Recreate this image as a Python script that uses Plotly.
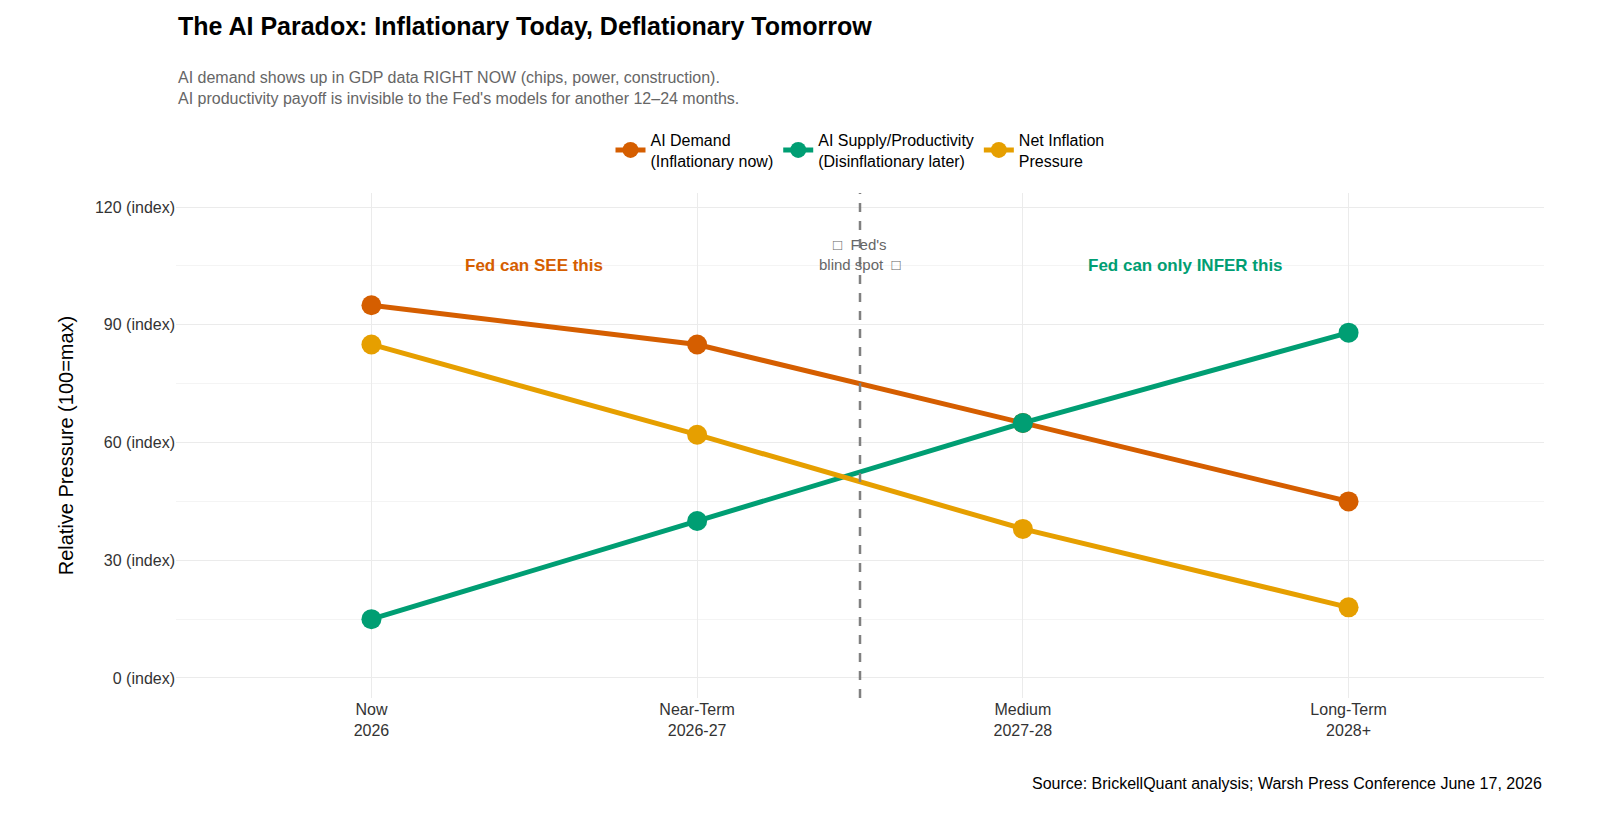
import plotly.graph_objects as go

periods = ["Now<br>2026", "Near-Term<br>2026-27", "Medium<br>2027-28", "Long-Term<br>2028+"]
demand = [95, 85, 65, 45]
supply = [15, 40, 65, 88]
net = [85, 62, 38, 18]
y_ticks = [0, 30, 60, 90, 120]

series = [
    ("AI Demand<br>(Inflationary now)", demand, "#D55E00"),
    ("AI Supply/Productivity<br>(Disinflationary later)", supply, "#009E73"),
    ("Net Inflation<br>Pressure", net, "#E69F00"),
]

xs = list(range(len(periods)))
fig = go.Figure()
for name, vals, color in series:
    fig.add_trace(go.Scatter(x=xs, y=vals, mode="lines+markers", name=name,
                             line=dict(color=color, width=5),
                             marker=dict(color=color, size=20)))

fig.add_vline(x=1.5, line=dict(color="gray", width=2.5, dash="dash"))
fig.add_annotation(x=0.5, y=105, text="<b>Fed can SEE this</b>", showarrow=False,
                   font=dict(color="#D55E00", size=17))
fig.add_annotation(x=2.5, y=105, text="<b>Fed can only INFER this</b>", showarrow=False,
                   font=dict(color="#009E73", size=17))
fig.add_annotation(x=1.5, y=108, text="□  Fed's<br>blind spot  □", showarrow=False,
                   font=dict(color="#666666", size=15))

# title and subtitle
fig.add_annotation(x=0, xref="paper", y=1.33, yref="paper", xanchor="left", yanchor="middle",
                   text="<b>The AI Paradox: Inflationary Today, Deflationary Tomorrow</b>",
                   showarrow=False, font=dict(size=25, color="black"))
fig.add_annotation(x=0, xref="paper", y=1.25, yref="paper", xanchor="left", yanchor="top",
                   align="left", showarrow=False, font=dict(size=16, color="#666666"),
                   text="AI demand shows up in GDP data RIGHT NOW (chips, power, construction).<br>"
                        "AI productivity payoff is invisible to the Fed's models for another 12–24 months.")
fig.add_annotation(x=1, xref="paper", y=-0.19, yref="paper", xanchor="right",
                   text="Source: BrickellQuant analysis; Warsh Press Conference June 17, 2026",
                   showarrow=False, font=dict(size=16, color="black"))

fig.update_layout(
    template="plotly_white",
    autosize=True,
    font=dict(family="Liberation Sans, Arial, sans-serif", size=16, color="#333333"),
    margin=dict(l=168, r=72, t=185, b=126),
    legend=dict(orientation="h", x=0.5, xanchor="center", y=1.085, yanchor="middle",
                font=dict(size=16, color="black")),
    xaxis=dict(range=[-0.6, 3.6], tickvals=xs, ticktext=periods, showline=False,
               gridcolor="#EBEBEB", zeroline=False, tickfont=dict(size=16)),
    yaxis=dict(range=[-5.1, 123.6], tickvals=y_ticks,
               ticktext=[f"{v} (index)" for v in y_ticks],
               title=dict(text="Relative Pressure (100=max)", font=dict(size=20, color="black")),
               gridcolor="#EBEBEB", zeroline=False,
               minor=dict(dtick=15, showgrid=True, gridcolor="#F4F4F4")),
)

fig.write_html("out.html", default_width="100%", default_height="100vh")
